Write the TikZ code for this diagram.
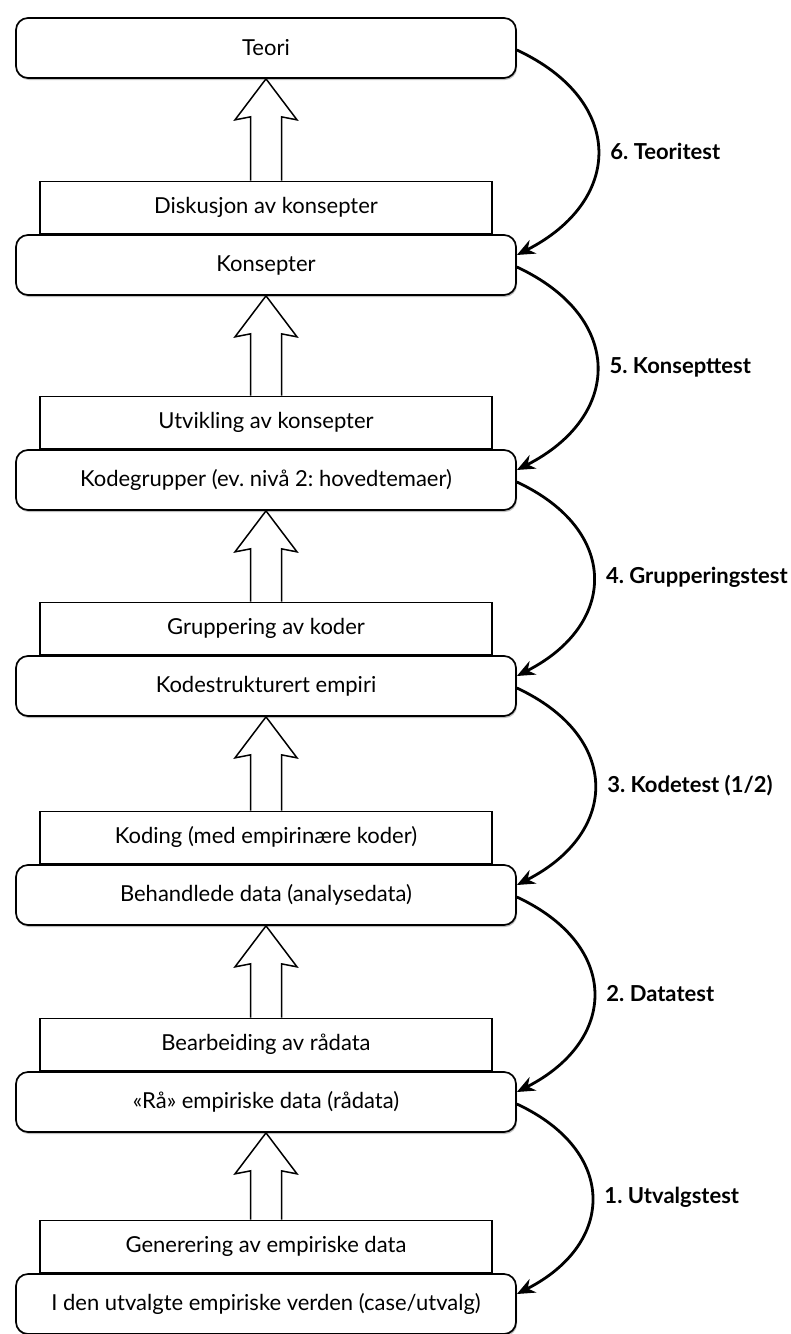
\documentclass[tikz,border=0pt]{standalone}
\usepackage{fontspec}
\setmainfont{Lato}
\usetikzlibrary{positioning,arrows.meta,shadows}
\frenchspacing

\newcommand{\hollowup}[2]{%
	\draw[hollow] ([xshift=-15.5pt]#1.north) -- ([xshift=-15.5pt,yshift=-38pt]#2.south) -- ([xshift=-31pt,yshift=-41pt]#2.south) -- (#2.south)
		-- ([xshift=31pt,yshift=-41pt]#2.south) -- ([xshift=15.5pt,yshift=-38pt]#2.south) -- ([xshift=15.5pt]#1.north);}

\begin{document}
\begin{tikzpicture}[x=1pt,y=1pt,
	stage/.style={draw,line width=1.7pt,rounded corners=12pt,fill=white,minimum width=500pt,minimum height=60pt,
		font=\fontsize{22}{26}\selectfont,drop shadow={shadow xshift=1pt,shadow yshift=-2pt,opacity=.5}},
	proc/.style={draw,line width=1.5pt,fill=white,minimum width=452pt,minimum height=52pt,font=\fontsize{22}{26}\selectfont},
	hollow/.style={line width=1.5pt,fill=white,line join=miter},
	test/.style={-{Stealth[length=18pt,width=15pt]},line width=2.8pt,looseness=1.5},
	lbl/.style={font=\bfseries\fontsize{22}{26}\selectfont,right=8pt}]
	\useasboundingbox (0,0) rectangle (791,-1334);
	\node[stage] (teori) at (266,-48) {Teori};
	\node[stage] (konsepter) at (266,-265) {Konsepter};
	\node[stage] (kodegrupper) at (266,-480) {Kodegrupper (ev. nivå 2: hovedtemaer)};
	\node[stage] (kodestruktur) at (266,-686) {Kodestrukturert empiri};
	\node[stage] (behandlet) at (266,-895) {Behandlede data (analysedata)};
	\node[stage] (raadata) at (266,-1102) {«Rå» empiriske data (rådata)};
	\node[stage] (utvalg) at (266,-1304) {I den utvalgte empiriske verden (case/utvalg)};
	\node[proc,above=0pt of konsepter] (diskusjon) {Diskusjon av konsepter};
	\node[proc,above=0pt of kodegrupper] (utvikling) {Utvikling av konsepter};
	\node[proc,above=0pt of kodestruktur] (gruppering) {Gruppering av koder};
	\node[proc,above=0pt of behandlet] (koding) {Koding (med empirinære koder)};
	\node[proc,above=0pt of raadata] (bearbeiding) {Bearbeiding av rådata};
	\node[proc,above=0pt of utvalg] (generering) {Generering av empiriske data};
	\hollowup{diskusjon}{teori}
	\hollowup{utvikling}{konsepter}
	\hollowup{gruppering}{kodegrupper}
	\hollowup{koding}{kodestruktur}
	\hollowup{bearbeiding}{behandlet}
	\hollowup{generering}{raadata}
	\draw[test] ([yshift=-2pt]teori.east) to[out=-25,in=27] node[lbl] {6. Teoritest} ([yshift=10pt]konsepter.east);
	\draw[test] ([yshift=-2pt]konsepter.east) to[out=-25,in=27] node[lbl] {5. Konsepttest} ([yshift=10pt]kodegrupper.east);
	\draw[test] ([yshift=-2pt]kodegrupper.east) to[out=-25,in=27] node[lbl] {4. Grupperingstest} ([yshift=10pt]kodestruktur.east);
	\draw[test] ([yshift=-2pt]kodestruktur.east) to[out=-25,in=27] node[lbl] {3. Kodetest (1/2)} ([yshift=10pt]behandlet.east);
	\draw[test] ([yshift=-2pt]behandlet.east) to[out=-25,in=27] node[lbl] {2. Datatest} ([yshift=10pt]raadata.east);
	\draw[test] ([yshift=-2pt]raadata.east) to[out=-25,in=27] node[lbl] {1. Utvalgstest} ([yshift=10pt]utvalg.east);
\end{tikzpicture}
\end{document}
